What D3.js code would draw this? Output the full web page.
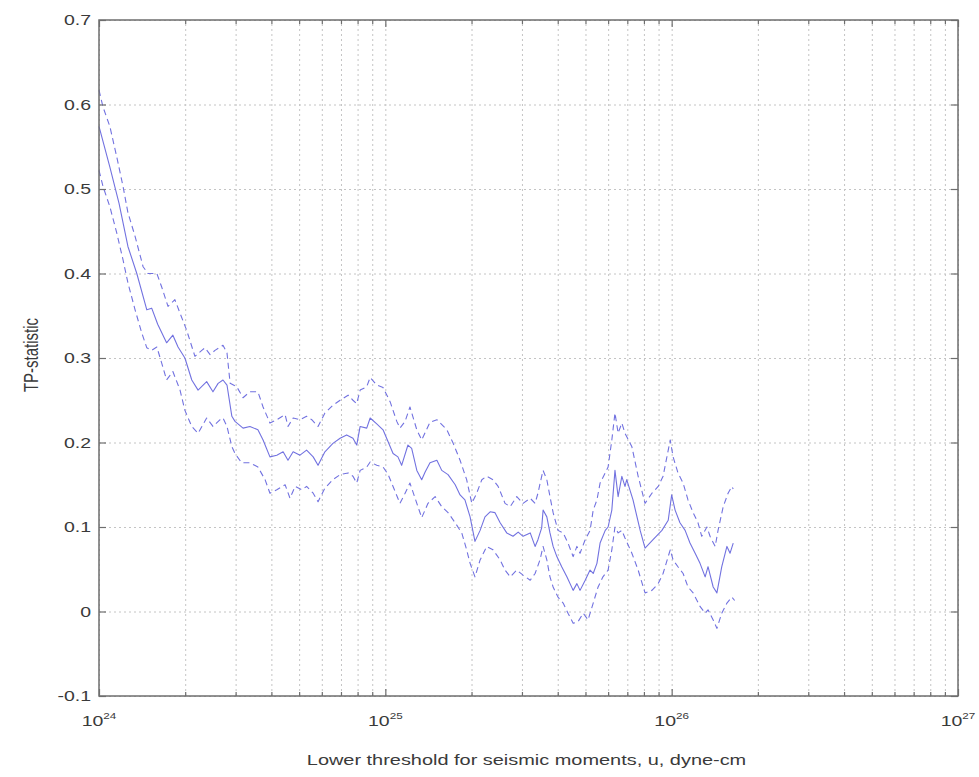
<!DOCTYPE html>
<html>
<head>
<meta charset="utf-8">
<script src="https://cdn.jsdelivr.net/npm/d3@7"></script>
<style>
  html, body { margin: 0; padding: 0; background: #fff; }
  svg { display: block; font-family: "Liberation Sans", Arial, Helvetica, sans-serif; }
</style>
</head>
<body>
<svg id="chart" width="979" height="777"></svg>
<script>
// TP-statistic versus lower threshold u (log10 of seismic moment, dyne-cm)
// Central estimate
const midLogU = [24.000, 24.038, 24.070, 24.101, 24.132, 24.167, 24.184, 24.205, 24.236, 24.258, 24.276, 24.300,
  24.324, 24.346, 24.376, 24.398, 24.416, 24.433, 24.447, 24.464, 24.475, 24.503, 24.527, 24.555, 24.573,
  24.597, 24.621, 24.643, 24.660, 24.678, 24.702, 24.725, 24.748, 24.765, 24.789, 24.817, 24.842, 24.865,
  24.887, 24.900, 24.912, 24.935, 24.947, 24.970, 24.992, 25.027, 25.044, 25.057, 25.079, 25.092, 25.110,
  25.127, 25.139, 25.156, 25.180, 25.197, 25.219, 25.244, 25.261, 25.278, 25.296, 25.313, 25.331, 25.348,
  25.366, 25.383, 25.401, 25.424, 25.446, 25.464, 25.481, 25.506, 25.523, 25.533, 25.546, 25.551, 25.564,
  25.575, 25.586, 25.599, 25.616, 25.634, 25.656, 25.669, 25.680, 25.698, 25.715, 25.726, 25.739, 25.750,
  25.768, 25.778, 25.791, 25.802, 25.813, 25.826, 25.837, 25.843, 25.865, 25.890, 25.907, 25.935, 25.966,
  25.988, 26.000, 26.012, 26.029, 26.047, 26.064, 26.082, 26.099, 26.117, 26.127, 26.145, 26.158, 26.175,
  26.193, 26.204, 26.215];
const midTP = [0.574, 0.526, 0.483, 0.432, 0.400, 0.357, 0.359, 0.340, 0.318, 0.327, 0.313, 0.300,
  0.274, 0.262, 0.272, 0.260, 0.270, 0.274, 0.268, 0.231, 0.225, 0.217, 0.219, 0.215, 0.203,
  0.183, 0.185, 0.189, 0.179, 0.189, 0.185, 0.191, 0.183, 0.173, 0.189, 0.199, 0.205, 0.209,
  0.205, 0.197, 0.219, 0.217, 0.229, 0.222, 0.215, 0.187, 0.183, 0.173, 0.197, 0.193, 0.167,
  0.156, 0.165, 0.176, 0.179, 0.167, 0.162, 0.150, 0.138, 0.132, 0.112, 0.083, 0.096, 0.112,
  0.118, 0.117, 0.105, 0.093, 0.089, 0.094, 0.089, 0.093, 0.077, 0.085, 0.099, 0.120, 0.112,
  0.093, 0.077, 0.065, 0.053, 0.041, 0.025, 0.033, 0.025, 0.037, 0.049, 0.045, 0.057, 0.081,
  0.096, 0.100, 0.120, 0.167, 0.136, 0.160, 0.148, 0.156, 0.132, 0.096, 0.075, 0.085, 0.096,
  0.108, 0.138, 0.120, 0.105, 0.096, 0.081, 0.069, 0.057, 0.041, 0.053, 0.029, 0.022, 0.053,
  0.077, 0.069, 0.081];

// Upper bound
const upLogU = [24.000, 24.014, 24.038, 24.062, 24.084, 24.101, 24.126, 24.154, 24.171, 24.202, 24.219, 24.241,
  24.265, 24.283, 24.306, 24.335, 24.359, 24.370, 24.388, 24.405, 24.423, 24.433, 24.447, 24.458, 24.481,
  24.503, 24.527, 24.555, 24.573, 24.597, 24.621, 24.650, 24.660, 24.678, 24.702, 24.725, 24.743, 24.765,
  24.789, 24.817, 24.842, 24.870, 24.887, 24.900, 24.912, 24.935, 24.947, 24.970, 24.992, 25.017, 25.040,
  25.051, 25.069, 25.086, 25.110, 25.127, 25.156, 25.180, 25.215, 25.237, 25.261, 25.284, 25.302, 25.319,
  25.337, 25.354, 25.376, 25.394, 25.418, 25.436, 25.459, 25.481, 25.506, 25.523, 25.533, 25.546, 25.551,
  25.564, 25.575, 25.586, 25.603, 25.621, 25.638, 25.656, 25.669, 25.680, 25.698, 25.715, 25.726, 25.739,
  25.750, 25.768, 25.778, 25.791, 25.802, 25.813, 25.826, 25.837, 25.861, 25.883, 25.907, 25.931, 25.953,
  25.970, 25.995, 26.005, 26.022, 26.040, 26.057, 26.075, 26.092, 26.105, 26.123, 26.134, 26.152, 26.162,
  26.180, 26.197, 26.210, 26.215];
const upTP = [0.617, 0.597, 0.574, 0.538, 0.503, 0.472, 0.444, 0.408, 0.400, 0.400, 0.384, 0.361,
  0.369, 0.353, 0.333, 0.302, 0.309, 0.312, 0.304, 0.309, 0.313, 0.315, 0.306, 0.270, 0.266,
  0.253, 0.260, 0.260, 0.242, 0.223, 0.227, 0.233, 0.219, 0.229, 0.227, 0.231, 0.227, 0.219,
  0.235, 0.244, 0.250, 0.256, 0.250, 0.246, 0.262, 0.266, 0.277, 0.268, 0.265, 0.248, 0.225,
  0.217, 0.225, 0.242, 0.215, 0.203, 0.224, 0.227, 0.215, 0.199, 0.179, 0.156, 0.128, 0.140,
  0.156, 0.160, 0.156, 0.148, 0.128, 0.124, 0.136, 0.128, 0.134, 0.128, 0.140, 0.160, 0.167,
  0.156, 0.136, 0.117, 0.096, 0.093, 0.081, 0.065, 0.077, 0.069, 0.085, 0.096, 0.120, 0.132,
  0.152, 0.164, 0.171, 0.203, 0.235, 0.211, 0.223, 0.211, 0.195, 0.160, 0.128, 0.140, 0.148,
  0.160, 0.203, 0.183, 0.164, 0.152, 0.132, 0.117, 0.105, 0.089, 0.100, 0.089, 0.077, 0.096,
  0.124, 0.140, 0.148, 0.145];

// Lower bound
const lowLogU = [24.000, 24.014, 24.038, 24.062, 24.084, 24.101, 24.126, 24.149, 24.167, 24.184, 24.202, 24.219,
  24.236, 24.258, 24.283, 24.300, 24.324, 24.346, 24.376, 24.398, 24.423, 24.433, 24.447, 24.464, 24.475,
  24.498, 24.527, 24.555, 24.580, 24.597, 24.621, 24.650, 24.667, 24.685, 24.708, 24.725, 24.748, 24.765,
  24.789, 24.817, 24.842, 24.870, 24.887, 24.900, 24.912, 24.935, 24.947, 24.970, 24.992, 25.010, 25.027,
  25.051, 25.069, 25.086, 25.110, 25.127, 25.149, 25.174, 25.197, 25.219, 25.244, 25.267, 25.284, 25.296,
  25.313, 25.331, 25.354, 25.376, 25.401, 25.418, 25.436, 25.459, 25.481, 25.506, 25.523, 25.540, 25.551,
  25.564, 25.575, 25.586, 25.603, 25.621, 25.638, 25.656, 25.673, 25.691, 25.708, 25.726, 25.743, 25.760,
  25.778, 25.791, 25.802, 25.813, 25.826, 25.837, 25.861, 25.883, 25.907, 25.931, 25.953, 25.970, 25.995,
  26.005, 26.022, 26.040, 26.057, 26.075, 26.099, 26.117, 26.127, 26.145, 26.158, 26.175, 26.193, 26.210,
  26.220];
const lowTP = [0.522, 0.503, 0.479, 0.448, 0.416, 0.389, 0.357, 0.330, 0.312, 0.309, 0.313, 0.294,
  0.274, 0.284, 0.262, 0.238, 0.219, 0.211, 0.229, 0.219, 0.227, 0.229, 0.219, 0.195, 0.187,
  0.176, 0.176, 0.171, 0.156, 0.140, 0.144, 0.150, 0.134, 0.148, 0.144, 0.148, 0.140, 0.130,
  0.146, 0.156, 0.162, 0.164, 0.160, 0.152, 0.167, 0.171, 0.177, 0.173, 0.171, 0.162, 0.148,
  0.128, 0.140, 0.152, 0.128, 0.111, 0.128, 0.136, 0.124, 0.117, 0.105, 0.093, 0.073, 0.057,
  0.041, 0.061, 0.077, 0.073, 0.061, 0.049, 0.041, 0.049, 0.043, 0.037, 0.045, 0.061, 0.077,
  0.061, 0.041, 0.029, 0.017, 0.010, -0.002, -0.014, -0.012, -0.002, -0.010, 0.010, 0.029, 0.041,
  0.049, 0.073, 0.100, 0.093, 0.096, 0.087, 0.069, 0.049, 0.022, 0.025, 0.033, 0.045, 0.073,
  0.061, 0.053, 0.045, 0.029, 0.022, 0.006, -0.002, 0.002, -0.010, -0.020, -0.002, 0.010, 0.017,
  0.013];

// Axis ticks and labels
const xDecades = [24, 25, 26, 27];
const yTickValues = [-0.1, 0, 0.1, 0.2, 0.3, 0.4, 0.5, 0.6, 0.7];
const yTickLabels = ["-0.1", "0", "0.1", "0.2", "0.3", "0.4", "0.5", "0.6", "0.7"];
const xTitle = "Lower threshold for seismic moments, u, dyne-cm";
const yTitle = "TP-statistic";

const svg = d3.select("#chart");
const plot = { left: 99, top: 20, right: 958, bottom: 696 };
const W = plot.right - plot.left, H = plot.bottom - plot.top;

const x = d3.scaleLog().domain([1e24, 1e27]).range([plot.left, plot.right]);
const y = d3.scaleLinear().domain([-0.1, 0.7]).range([plot.bottom, plot.top]);

const xMajor = xDecades.map(e => Math.pow(10, e));
const xMinor = [];
xDecades.slice(0, -1).forEach(e => { for (let m = 2; m <= 9; m++) xMinor.push(m * Math.pow(10, e)); });
const xAll = xMajor.concat(xMinor);

const gridColor = "#c4c4c4";
const axisColor = "#6e6e6e";
const textColor = "#3a3a3a";
const textStretch = 1.3;   // glyphs are drawn wide

svg.append("rect").attr("width", 979).attr("height", 777).attr("fill", "#fff");

// dotted grid
const gx = svg.append("g").attr("transform", `translate(0,${plot.bottom})`)
  .call(d3.axisBottom(x).tickValues(xAll).tickSize(-H).tickFormat(""));
gx.select(".domain").remove();
gx.selectAll("line").attr("stroke", gridColor).attr("stroke-dasharray", "2,3").attr("stroke-width", 1);

const gy = svg.append("g").attr("transform", `translate(${plot.left},0)`)
  .call(d3.axisLeft(y).tickValues(yTickValues).tickSize(-W).tickFormat(""));
gy.select(".domain").remove();
gy.selectAll("line").attr("stroke", gridColor).attr("stroke-dasharray", "2,3").attr("stroke-width", 1);

// series
const line = d3.line().x(d => x(Math.pow(10, d[0]))).y(d => y(d[1]));
const seriesColor = "#7272e0";
const series = [
  { lx: upLogU, v: upTP, dash: "6,4" },
  { lx: midLogU, v: midTP, dash: null },
  { lx: lowLogU, v: lowTP, dash: "6,4" }
];
series.forEach(s => {
  svg.append("path")
    .datum(s.lx.map((e, i) => [e, s.v[i]]))
    .attr("fill", "none")
    .attr("stroke", seriesColor)
    .attr("stroke-width", 1.1)
    .attr("stroke-dasharray", s.dash)
    .attr("stroke-linejoin", "round")
    .attr("d", line);
});

// box
svg.append("rect")
  .attr("x", plot.left).attr("y", plot.top).attr("width", W).attr("height", H)
  .attr("fill", "none").attr("stroke", axisColor).attr("stroke-width", 1.5);

// inward ticks on all four sides
function styleTicks(g) {
  g.select(".domain").remove();
  g.selectAll("line").attr("stroke", axisColor).attr("stroke-width", 1.2);
}
svg.append("g").attr("transform", `translate(0,${plot.bottom})`)
  .call(d3.axisBottom(x).tickValues(xMajor).tickSize(-7).tickFormat("")).call(styleTicks);
svg.append("g").attr("transform", `translate(0,${plot.bottom})`)
  .call(d3.axisBottom(x).tickValues(xMinor).tickSize(-4).tickFormat("")).call(styleTicks);
svg.append("g").attr("transform", `translate(0,${plot.top})`)
  .call(d3.axisTop(x).tickValues(xMajor).tickSize(-7).tickFormat("")).call(styleTicks);
svg.append("g").attr("transform", `translate(0,${plot.top})`)
  .call(d3.axisTop(x).tickValues(xMinor).tickSize(-4).tickFormat("")).call(styleTicks);
svg.append("g").attr("transform", `translate(${plot.left},0)`)
  .call(d3.axisLeft(y).tickValues(yTickValues).tickSize(-7).tickFormat("")).call(styleTicks);
svg.append("g").attr("transform", `translate(${plot.right},0)`)
  .call(d3.axisRight(y).tickValues(yTickValues).tickSize(-7).tickFormat("")).call(styleTicks);

// y tick labels
svg.append("g").selectAll("text").data(yTickValues).join("text")
  .attr("transform", d => `translate(${plot.left - 8},${y(d)}) scale(${textStretch},1)`)
  .attr("dy", "0.36em")
  .attr("text-anchor", "end")
  .attr("font-size", 15).attr("fill", textColor)
  .text((d, i) => yTickLabels[i]);

// x tick labels: 10 with superscript exponent
const xl = svg.append("g").selectAll("text").data(xDecades).join("text")
  .attr("transform", d => `translate(${x(Math.pow(10, d))},${plot.bottom + 30}) scale(${textStretch},1)`)
  .attr("text-anchor", "middle")
  .attr("font-size", 15).attr("fill", textColor);
xl.append("tspan").text("10");
xl.append("tspan").attr("font-size", 9).attr("dy", -7).text(d => d);

// axis titles
svg.append("text")
  .attr("transform", `translate(${(plot.left + plot.right) / 2 - 2},765) scale(${textStretch},1)`)
  .attr("text-anchor", "middle")
  .attr("font-size", 15).attr("fill", textColor)
  .attr("textLength", 338).attr("lengthAdjust", "spacingAndGlyphs")
  .text(xTitle);

svg.append("text")
  .attr("transform", `translate(38,355) scale(${textStretch},1) rotate(-90)`)
  .attr("text-anchor", "middle")
  .attr("font-size", 15).attr("fill", textColor)
  .text(yTitle);
</script>
</body>
</html>
